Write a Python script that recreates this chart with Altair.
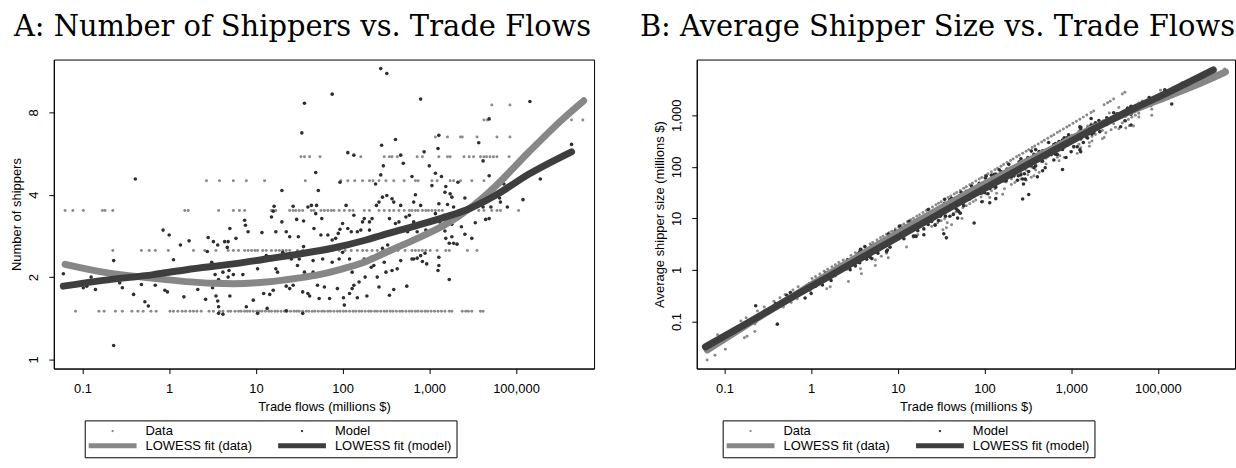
import math
import altair as alt
import pandas as pd

# ---------------- axis ticks / labels (axis units: log10 trade flows, log2 shippers, log10 size)
X_TICKS = [-1, 0, 1, 2, 3, 4]
X_LABELS = ["0.1", "1", "10", "100", "1,000", "100,000"]
YA_TICKS = [0, 1, 2, 3]
YA_LABELS = ["1", "2", "4", "8"]
YB_TICKS = [-1, 0, 1, 2, 3]
YB_LABELS = ["0.1", "1", "10", "100", "1,000"]

SERIES = ["Data", "Model", "LOWESS fit (data)", "LOWESS fit (model)"]

# ---------------- observed data: number of shippers (bands) and log10 trade-flow positions
DATA_N15 = [-1.08, -0.81, -0.75, -0.62, -0.54, -0.43, -0.36, -0.30, -0.21, -0.15, 0.01, 0.05, 0.10,
            0.15, 0.19, 0.24, 0.28, 0.32, 0.37, 0.46, 0.51, 0.58, 0.62, 0.68, 0.71, 0.76, 0.80, 0.83,
            0.87, 0.90, 0.93, 0.97, 1.01, 1.04, 1.07, 1.11, 1.15, 1.18, 1.22, 1.25, 1.29, 1.33, 1.36,
            1.40, 1.44, 1.47, 1.50, 1.54, 1.58, 1.61, 1.65, 1.68, 1.72, 1.76, 1.79, 1.83, 1.86, 1.90,
            1.94, 1.97, 2.01, 2.04, 2.08, 2.12, 2.15, 2.19, 2.22, 2.26, 2.30, 2.33, 2.37, 2.40, 2.44,
            2.48, 2.51, 2.55, 2.58, 2.62, 2.66, 2.69, 2.73, 2.77, 2.80, 2.84, 2.87, 2.91, 2.95, 2.98,
            3.02, 3.06, 3.10, 3.14, 3.18, 3.23, 3.26, 3.38, 3.42, 3.45, 3.49, 3.59, 3.62]
DATA_N25 = [-0.65, -0.32, -0.23, -0.16, -0.01, 0.28, 0.41, 0.54, 0.68, 0.74, 0.80, 0.87, 0.91, 0.95,
            0.99, 1.02, 1.08, 1.12, 1.18, 1.23, 1.27, 1.31, 1.35, 1.39, 1.48, 1.54, 1.60, 1.66, 1.73,
            1.80, 1.88, 1.96, 2.03, 2.10, 2.17, 2.23, 2.28, 2.34, 2.40, 2.46, 2.50, 2.57, 2.64, 2.72,
            2.80, 2.84, 2.88, 2.92, 2.96, 3.01, 3.09, 3.19, 3.23, 3.44, 3.55]
DATA_N35 = [-1.20, -1.11, -0.99, -0.77, -0.74, -0.65, 0.18, 0.22, 0.57, 0.74, 0.81, 0.87, 1.18, 1.23,
            1.39, 1.43, 1.46, 1.50, 1.54, 1.64, 1.67, 1.75, 1.79, 1.83, 1.87, 1.90, 1.96, 2.02, 2.08,
            2.12, 2.25, 2.31, 2.42, 2.48, 2.54, 2.59, 2.65, 2.71, 2.77, 2.80, 2.84, 2.87, 2.92, 2.96,
            2.99, 3.03, 3.07, 3.11, 3.15, 3.34, 3.57, 3.63, 3.72, 3.78, 3.82, 4.03]
DATA_N45 = [0.43, 0.58, 0.74, 0.89, 1.10, 1.57, 1.98, 2.06, 2.14, 2.23, 2.31, 2.35, 2.42, 2.50, 2.59,
            2.71, 2.84, 2.87, 3.03, 3.09, 3.24, 3.28, 3.36, 3.49, 3.63]
DATA_N55 = [1.52, 1.56, 1.62, 1.74, 2.21, 2.48, 2.54, 2.57, 2.63, 2.86, 2.92, 3.11, 3.21, 3.24, 3.40,
            3.46, 3.51, 3.59, 3.63, 3.66, 3.70, 3.74, 3.78, 3.92]
DATA_N65 = [3.07, 3.21, 3.36, 3.38, 3.55, 3.78, 3.93]
DATA_N75 = [3.63, 3.67, 4.64, 4.77]
DATA_N85 = [3.72, 3.93]
DATA_BANDS = [(1.5, DATA_N15), (2.5, DATA_N25), (3.5, DATA_N35), (4.5, DATA_N45),
              (5.5, DATA_N55), (6.5, DATA_N65), (7.5, DATA_N75), (8.5, DATA_N85)]

# ---------------- model: log10 trade flows, log2 number of shippers
MODEL_X = [-0.39, -0.07, 0.00, 0.13, 0.23, 0.05, -0.64, -1.22, -0.90, -0.99, -0.95, -0.85, -0.57, -0.54,
           -0.41, -0.32, -0.16, -0.05, -0.02, -0.28, -0.24, 0.17, 0.33, 0.42, 0.45, 0.51, 0.56, 0.64,
           0.68, 0.67, 0.70, 0.44, 0.49, 0.53, 0.57, 0.62, 0.68, 0.69, 0.50, 0.54, 0.56, 0.57, 0.57,
           0.62, 0.70, -0.64,
           2.44, 2.51, 1.88, 1.56, 1.53, 2.61, 2.45, 2.67, 2.70, 2.47, 2.44, 2.06, 2.13, 1.97, 1.69,
           1.72, 1.30, 2.38, 2.80,
           0.77, 0.87, 0.88, 0.91, 1.07, 1.21, 1.18, 1.23, 1.20, 1.30, 1.35, 1.39, 1.43, 1.47, 1.49,
           1.55, 1.55, 1.60, 1.64, 1.67, 1.70, 1.69, 1.75, 1.76, 1.83, 1.88, 1.92, 1.95, 1.97, 2.00,
           2.04, 2.06, 2.10, 2.13, 2.17, 2.21, 2.23, 2.25, 2.31, 2.31, 2.34, 2.39, 2.42, 2.46, 2.51,
           2.54, 2.57, 2.59, 2.61, 2.65, 2.67, 2.73, 2.77, 2.75,
           0.74, 0.85, 0.89, 0.97, 1.02, 1.09, 1.13, 1.16, 1.20, 1.25, 1.35, 1.39, 1.43, 1.48, 1.54,
           1.56, 1.60, 1.62, 1.66, 1.71, 1.73, 1.79, 1.85, 1.90, 1.94, 2.01, 2.02, 2.08, 2.11, 2.13,
           2.17, 2.19, 2.26, 2.28, 2.33, 2.36, 2.40, 2.42, 2.48, 2.50, 2.54, 2.57, 2.59, 2.63, 2.67,
           2.74, 2.80, 1.35, 1.54, 1.12, 1.23, 1.02, 1.31, 1.41, 1.50, 1.66, 1.77, 1.85, 2.00, 2.08,
           2.11, 2.25, 2.46, 2.52, 1.69, 1.96, 1.88, 1.81,
           2.90, 3.57, 2.94, 3.11, 3.10, 3.62, 3.00, 3.07, 3.14, 3.03, 3.19, 3.18, 3.24, 3.26, 3.33,
           3.69, 3.86, 4.28, 4.16, 3.69, 4.64, 4.08, 3.81, 3.82, 3.90, 3.71, 3.62, 3.41, 2.84, 2.82,
           2.90, 3.11, 3.21, 3.28, 3.07, 3.17, 2.82, 2.88, 2.98, 3.12, 3.19, 3.26, 3.37, 3.53, 3.65,
           3.69, 2.86, 2.96, 3.18, 3.19, 3.26, 3.23, 3.28, 3.32, 3.41, 3.49, 2.82, 2.86, 2.90, 2.95,
           2.92, 2.97, 3.11, 3.11, 3.10, 3.23]
MODEL_Y = [2.19, 1.57, 1.51, 1.39, 1.44, 1.21, 1.20, 1.04, 1.00, 0.87, 0.89, 0.85, 0.93, 0.87,
           0.79, 0.91, 0.90, 0.84, 0.82, 0.70, 0.65, 0.76, 0.85, 0.73, 1.48, 1.43, 1.39, 1.43,
           1.43, 1.36, 1.59, 1.31, 1.18, 1.03, 0.97, 1.06, 1.00, 1.08, 0.87, 0.77, 0.71, 0.64, 0.56,
           0.55, 0.77, 0.17,
           3.53, 3.47, 3.22, 3.11, 2.75, 2.67, 2.60, 2.48, 2.38, 2.35, 2.24, 2.51, 2.48, 2.15, 2.27,
           2.05, 2.05, 2.13, 2.22,
           1.47, 1.69, 1.63, 1.55, 1.54, 1.86, 1.73, 1.55, 1.80, 1.67, 1.55, 1.49, 1.86, 1.70, 1.49,
           1.68, 1.37, 1.85, 1.87, 1.59, 1.87, 1.77, 1.51, 1.71, 1.51, 1.45, 1.47, 1.53, 1.58, 1.65,
           1.87, 1.59, 1.55, 1.75, 1.55, 1.57, 1.67, 1.71, 1.67, 1.57, 1.71, 1.87, 1.91, 1.97, 1.99,
           1.71, 1.95, 1.91, 1.65, 1.67, 1.87, 1.73, 1.75, 1.55,
           1.03, 1.03, 0.64, 0.72, 0.56, 0.80, 0.62, 0.79, 0.84, 1.06, 0.89, 0.86, 0.90, 1.14, 0.82,
           1.06, 0.80, 0.77, 1.06, 0.90, 0.74, 0.88, 0.74, 1.06, 0.86, 0.75, 0.66, 0.80, 0.86, 0.90,
           0.75, 0.94, 1.00, 0.77, 1.12, 1.14, 1.00, 0.88, 1.18, 1.06, 0.78, 1.08, 0.85, 1.10, 1.20,
           0.89, 1.22, 0.59, 0.56, 1.26, 1.10, 1.10, 1.30, 1.22, 1.22, 1.20, 1.22, 1.35, 1.30, 1.22,
           1.06, 1.22, 1.35, 1.39, 1.30, 1.22, 1.18, 1.06,
           3.16, 2.63, 2.52, 2.72, 2.56, 2.41, 2.35, 2.26, 2.22, 2.11, 2.10, 2.03, 2.01, 1.97, 2.15,
           2.23, 2.13, 2.19, 3.13, 2.92, 2.61, 1.94, 1.96, 1.91, 1.85, 1.85, 1.85, 1.96, 2.00, 1.91,
           1.87, 1.89, 1.88, 1.85, 1.77, 1.75, 1.67, 1.63, 1.65, 1.67, 1.63, 1.64, 1.61, 1.66, 1.70,
           1.71, 1.55, 1.57, 1.56, 1.47, 1.49, 1.41, 1.41, 1.40, 1.52, 1.47, 1.22, 1.23, 1.26, 1.29,
           1.19, 1.16, 1.24, 1.14, 1.08, 0.97]

# ---------------- LOWESS fits, panel A (log10 flows, log2 shippers)
LA_DATA_X = [-1.20, -0.76, -0.18, 0.20, 0.51, 0.74, 1.12, 1.50, 1.73, 2.00, 2.27, 2.46, 2.65, 2.80,
             3.19, 3.46, 3.76, 4.15, 4.53, 4.78]
LA_DATA_Y = [1.155, 1.06, 0.985, 0.945, 0.925, 0.92, 0.94, 0.99, 1.03, 1.10, 1.19, 1.28, 1.37, 1.44,
             1.64, 1.83, 2.10, 2.52, 2.91, 3.14]
LA_MODEL_X = [-1.22, -0.76, -0.18, 0.20, 0.74, 1.12, 1.50, 1.88, 2.27, 2.46, 2.80, 3.19, 3.46, 3.76,
              4.15, 4.64]
LA_MODEL_Y = [0.89, 0.96, 1.03, 1.09, 1.16, 1.22, 1.28, 1.35, 1.45, 1.51, 1.61, 1.73, 1.83, 1.99,
              2.25, 2.52]
# ---------------- LOWESS fits, panel B (log10 flows, log10 average shipper size)
LB_DATA_X = LA_DATA_X
LB_DATA_Y = [-1.55, -1.08, -0.48, -0.08, 0.23, 0.46, 0.84, 1.20, 1.42, 1.67, 1.91, 2.08, 2.24, 2.37,
             2.70, 2.91, 3.13, 3.39, 3.65, 3.84]
LB_MODEL_X = LA_MODEL_X
LB_MODEL_Y = [-1.49, -1.05, -0.49, -0.13, 0.39, 0.75, 1.11, 1.47, 1.83, 2.01, 2.32, 2.67, 2.91, 3.16,
              3.47, 3.88]

C_DATA_PT = "#8a8a8a"
C_MODEL_PT = "#2e2e2e"
C_DATA_LN = "#878787"
C_MODEL_LN = "#3e3e3e"
COLORS = [C_DATA_PT, C_MODEL_PT, C_DATA_LN, C_MODEL_LN]
# legend symbols (unit = 5 px with symbolSize 100): small dot and 48x5 px bar
DOT = "M3.26,0A0.24,0.24,0,1,1,3.74,0A0.24,0.24,0,1,1,3.26,0Z"
BAR = "M-1.3,-0.5L8.3,-0.5L8.3,0.5L-1.3,0.5Z"
SHAPES = [DOT, DOT, BAR, BAR]

rows = []
for n, xs in DATA_BANDS:
    for x in xs:
        rows.append({"x": x, "ya": math.log2(n), "series": "Data"})
for x, y in zip(MODEL_X, MODEL_Y):
    rows.append({"x": x, "ya": y, "series": "Model"})
pts = pd.DataFrame(rows)


def label_expr(ticks, labels):
    s = "''"
    for t, l in reversed(list(zip(ticks, labels))):
        s = f"datum.value == {t} ? '{l}' : ({s})"
    return s


def line_df(xs, ys):
    return pd.DataFrame({"x": xs, "y": ys})


def panel(title, title_dx, yfield, ydom, yticks, ylabels, ytitle, xdom, lg, lm, legx, width):
    xenc = alt.X("x:Q", scale=alt.Scale(domain=xdom, nice=False, zero=False),
                 axis=alt.Axis(values=X_TICKS, labelExpr=label_expr(X_TICKS, X_LABELS),
                               title="Trade flows (millions $)", labelPadding=9, titlePadding=5))
    ysc = alt.Scale(domain=ydom, nice=False, zero=False)
    yax = alt.Axis(values=yticks, labelExpr=label_expr(yticks, ylabels), title=ytitle,
                   labelAngle=270, labelAlign="center", labelBaseline="bottom", labelPadding=8,
                   titlePadding=4)
    base = alt.Chart(pts)
    if yfield == "yb":
        # average shipper size = trade flows / number of shippers
        base = base.transform_calculate(yb="datum.x - datum.ya * LN2 / LN10")
    p_data = base.transform_filter("datum.series == 'Data'").mark_circle(
        size=9, color=C_DATA_PT, opacity=1).encode(x=xenc, y=alt.Y(f"{yfield}:Q", scale=ysc, axis=yax))
    p_model = base.transform_filter("datum.series == 'Model'").mark_circle(
        size=13, color=C_MODEL_PT, opacity=1).encode(x=xenc, y=alt.Y(f"{yfield}:Q", scale=ysc, axis=yax))
    l_data = alt.Chart(lg).mark_line(color=C_DATA_LN, strokeWidth=7, strokeCap="round",
                                     strokeJoin="round", interpolate="monotone").encode(
        x=xenc, y=alt.Y("y:Q", scale=ysc, axis=yax))
    l_model = alt.Chart(lm).mark_line(color=C_MODEL_LN, strokeWidth=7, strokeCap="round",
                                      strokeJoin="round", interpolate="monotone").encode(
        x=xenc, y=alt.Y("y:Q", scale=ysc, axis=yax))
    leg = alt.Legend(title=None, orient="none", legendX=legx, legendY=362, columns=2,
                     direction="horizontal", strokeColor="black", padding=4, symbolSize=100,
                     symbolStrokeWidth=0, labelOffset=44, labelFontSize=13, labelFont="Liberation Sans",
                     labelColor="black", columnPadding=26, rowPadding=1, symbolOpacity=1,
                     labelLimit=300)
    legend_layer = alt.Chart(pd.DataFrame({"series": SERIES})).transform_filter("false").mark_point(
        filled=True).encode(
        color=alt.Color("series:N", scale=alt.Scale(domain=SERIES, range=COLORS), legend=leg),
        shape=alt.Shape("series:N", scale=alt.Scale(domain=SERIES, range=SHAPES), legend=leg))
    return alt.layer(p_data, p_model, l_data, l_model, legend_layer).properties(
        width=width, height=310, title=alt.TitleParams(title, dx=title_dx))


chart_a = panel("A: Number of Shippers vs. Trade Flows", 0, "ya", [-0.11, 3.64], YA_TICKS, YA_LABELS,
                "Number of shippers", [-1.33, 4.9],
                line_df(LA_DATA_X, LA_DATA_Y), line_df(LA_MODEL_X, LA_MODEL_Y), 31, 542)
chart_b = panel("B: Average Shipper Size vs. Trade Flows", -7, "yb", [-1.91, 4.08], YB_TICKS, YB_LABELS,
                "Average shipper size (millions $)", [-1.32, 4.89],
                line_df(LB_DATA_X, LB_DATA_Y), line_df(LB_MODEL_X, LB_MODEL_Y), 26, 540)

chart = alt.hconcat(chart_a, chart_b, spacing=44).resolve_scale(
    color="independent", shape="independent").resolve_legend(
    color="independent", shape="independent").properties(
    padding={"left": 10, "top": 11, "right": 0, "bottom": 0}, background="white"
).configure_view(stroke="black", strokeWidth=1).configure_axis(
    grid=False, domainColor="black", tickColor="black", labelColor="black", titleColor="black",
    labelFont="Liberation Sans", titleFont="Liberation Sans", labelFontSize=13, titleFontSize=13,
    titleFontWeight="normal", tickSize=5, labelOverlap=False, labelFlush=False
).configure_title(font="DejaVu Serif", fontSize=29, fontWeight="normal", color="black",
                  anchor="middle", offset=18, frame="bounds")

chart.save("out.html", embed_options={"renderer": "svg", "actions": False})
